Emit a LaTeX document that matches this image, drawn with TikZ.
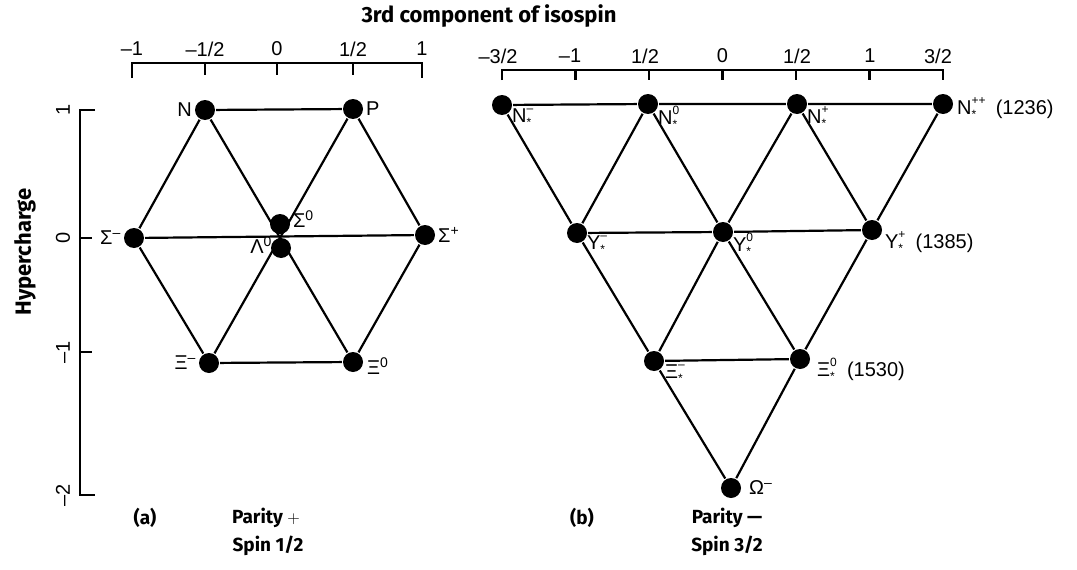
\documentclass[tikz,border=0pt]{standalone}
\usepackage{fontspec}
\setmainfont{Liberation Sans}
\newfontfamily\capfont{Fira Sans}
\usetikzlibrary{positioning}
\newcommand{\stk}[3]{#1\rlap{\raisebox{0.5em}{\fontsize{12}{12}\selectfont#3}}\raisebox{-0.2em}{\fontsize{12}{12}\selectfont#2}\hphantom{\fontsize{12}{12}\selectfont#3}}

\begin{document}
\begin{tikzpicture}[x=1pt,y=-1pt,line width=2.2pt,
  dot/.style={circle,fill=black,inner sep=0pt,minimum size=20pt},
  lbl/.style={inner sep=0pt,font=\fontsize{20}{22}\selectfont},
  num/.style={inner sep=0pt,font=\fontsize{20}{22}\selectfont},
  captxt/.style={inner sep=0pt,font=\capfont\bfseries\fontsize{19}{21}\selectfont},
  bigtxt/.style={inner sep=0pt,font=\capfont\bfseries\fontsize{22}{24}\selectfont}]
\useasboundingbox (0,0) rectangle (1077,570);

% axes
\node[bigtxt] (title) at (489,16) {3rd component of isospin};
\draw (132,78) -- (132,63) -- (422,63) -- (422,78);
\foreach \x in {205,277,353} \draw (\x,63) -- (\x,75);
\foreach \x/\t [count=\i] in {132/{–1},205/{–1/2},277/{0},353/{1/2},422/{1}}
  \node[num] (ta\i) at (\x,49) {\t};
\draw (502,80) -- (502,70) -- (943,70) -- (943,80);
\foreach \x in {575.5,649,722.5,796,869.5} \draw (\x,70) -- (\x,80);
\foreach \x/\t [count=\i] in {498/{–3/2},570/{–1},645/{1/2},722.5/{0},797/{1/2},870/{1},938/{3/2}}
  \node[num] (tb\i) at (\x,56) {\t};
\draw (95,110) -- (80,110) -- (80,495) -- (95,495);
\foreach \y in {238,352} \draw (80,\y) -- (92,\y);
\foreach \y/\t [count=\i] in {110/{1},238/{0},352/{–1},495/{–2}}
  \node[num,rotate=90] (yc\i) at (63,\y) {\t};
\node[bigtxt,rotate=90] (ylab) at (25,252) {Hypercharge};

% (a) octet
\node[dot] (N) at (205,110) {};
\node[dot] (P) at (353,109) {};
\node[dot] (Sm) at (134,238) {};
\node[dot] (Sp) at (425,235) {};
\node[dot] (S0) at (280,224) {};
\node[dot] (L0) at (281,248) {};
\node[dot] (Xm) at (209,363) {};
\node[dot] (X0) at (353,362) {};
\draw (N) -- (P);
\draw (Sm) -- (Sp);
\draw (Xm) -- (X0);
\draw (N) -- (Sm) -- (Xm);
\draw (P) -- (Sp) -- (X0);
\draw (N) -- (X0);
\draw (P) -- (Xm);
\node[lbl,left=1pt of N] (Nl) {N};
\node[lbl,right=1pt of P] (Pl) {P};
\node[lbl,left=1pt of Sm] (Sml) {Σ\textsuperscript{–}};
\node[lbl,right=1pt of Sp] (Spl) {Σ\textsuperscript{+}};
\node[lbl,anchor=west] (S0l) at ([shift={(12,-5)}]S0) {Σ\textsuperscript{0}};
\node[lbl,anchor=east] (L0l) at ([shift={(-8,-3)}]L0) {Λ\textsuperscript{0}};
\node[lbl,left=1pt of Xm] (Xml) {Ξ\textsuperscript{–}};
\node[lbl,anchor=west] (X0l) at ([shift={(13,4)}]X0) {Ξ\textsuperscript{0}};

% (b) decuplet
\node[dot] (Dm) at (502,105) {};
\node[dot] (D0) at (648,104) {};
\node[dot] (Dp) at (797,104) {};
\node[dot] (Dpp) at (943,104) {};
\node[dot] (Ym) at (577,233) {};
\node[dot] (Y0) at (723,232) {};
\node[dot] (Yp) at (872,230) {};
\node[dot] (Cm) at (654,361) {};
\node[dot] (C0) at (800,359) {};
\node[dot] (Om) at (731,488) {};
\draw (Dm) -- (D0) -- (Dp) -- (Dpp);
\draw (Ym) -- (Y0) -- (Yp);
\draw (Cm) -- (C0);
\draw (Dm) -- (Ym) -- (Cm) -- (Om);
\draw (Dpp) -- (Yp) -- (C0) -- (Om);
\draw (D0) -- (Ym);
\draw (D0) -- (Y0) -- (C0);
\draw (Dp) -- (Yp);
\draw (Dp) -- (Y0) -- (Cm);
\node[lbl,anchor=west] (Dml) at ([shift={(9,13)}]Dm) {\stk{N}{*}{–}};
\node[lbl,anchor=west] (D0l) at ([shift={(9,13)}]D0) {\stk{N}{*}{0}};
\node[lbl,anchor=west] (Dpl) at ([shift={(9,13)}]Dp) {\stk{N}{*}{+}};
\node[lbl,anchor=west] (Dppl) at ([shift={(13,4)}]Dpp) {\stk{N}{*}{++}\ (1236)};
\node[lbl,anchor=west] (Yml) at ([shift={(9,12)}]Ym) {\stk{Y}{*}{–}};
\node[lbl,anchor=west] (Y0l) at ([shift={(9,12)}]Y0) {\stk{Y}{*}{0}};
\node[lbl,anchor=west] (Ypl) at ([shift={(12,12)}]Yp) {\stk{Y}{*}{+}\ (1385)};
\node[lbl,anchor=west] (Cml) at ([shift={(10,13)}]Cm) {\stk{Ξ}{*}{–}};
\node[lbl,anchor=west] (C0l) at ([shift={(16,10)}]C0) {\stk{Ξ}{*}{0}\ (1530)};
\node[lbl,right=6pt of Om] (Oml) {Ω\textsuperscript{–}};

% captions
\node[captxt] (capa) at (145,518) {(a)};
\node[captxt] (para) at (266,518) {Parity $+$};
\node[captxt] (spina) at (268,546) {Spin 1/2};
\node[captxt] (capb) at (582,518) {(b)};
\node[captxt] (parb) at (727,518) {Parity —};
\node[captxt] (spinb) at (727,546) {Spin 3/2};
\end{tikzpicture}
\end{document}
